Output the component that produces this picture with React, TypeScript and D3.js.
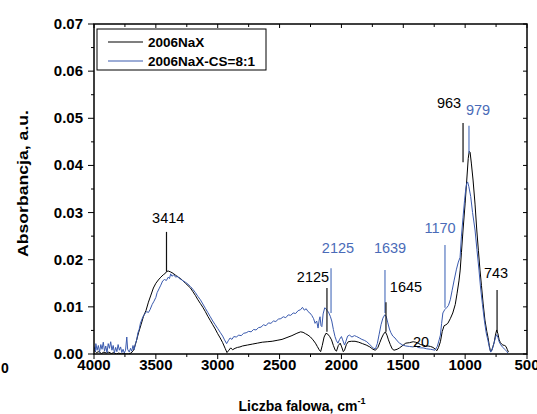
import React from "react";
import * as d3 from "d3";

// ---- data ----
const naxWavenumbers = [4000,3980,3960,3940,3920,3900,3880,3860,3840,3820,3800,3780,3760,3740,3720,3700,3680,3660,3640,3620,3600,3580,3560,3540,3520,3500,3480,3460,3440,3420,3414,3400,3380,3360,3340,3320,3300,3280,3260,3240,3220,3200,3180,3160,3140,3120,3100,3080,3060,3040,3020,3000,2980,2960,2940,2925,2910,2895,2880,2860,2840,2820,2800,2760,2720,2680,2640,2600,2560,2520,2480,2440,2400,2360,2330,2310,2290,2270,2250,2230,2210,2195,2180,2168,2155,2140,2125,2110,2095,2080,2065,2050,2040,2025,2010,1998,1985,1975,1960,1945,1920,1890,1860,1830,1800,1770,1745,1725,1705,1690,1675,1660,1645,1632,1620,1605,1590,1575,1550,1530,1500,1480,1450,1420,1400,1380,1360,1340,1320,1300,1280,1260,1240,1228,1215,1200,1185,1170,1155,1140,1120,1100,1080,1065,1050,1040,1030,1017,1000,987,975,967,960,950,936,920,906,893,880,868,855,840,825,815,805,795,785,775,765,755,745,735,725,715,705,695,680,670,660,650];
const naxAbsorbance = [0.0008,0.0003,0.0005,0.0001,0.0004,0.0002,0.0004,0.0001,0.0003,0.0,0.0002,0.0,0.0001,0.0,0.0,0.0002,0.0008,0.0025,0.0045,0.0062,0.008,0.0092,0.011,0.0125,0.014,0.015,0.0157,0.0163,0.0168,0.0172,0.0175,0.0176,0.0174,0.0171,0.0167,0.0163,0.016,0.0155,0.015,0.0145,0.014,0.0132,0.0124,0.0115,0.0107,0.0099,0.009,0.008,0.0071,0.0062,0.0053,0.0043,0.0034,0.0024,0.0012,0.0003,0.0008,0.0013,0.0009,0.0012,0.0014,0.0015,0.0017,0.0019,0.0021,0.0023,0.0025,0.0026,0.0027,0.0029,0.0031,0.0035,0.0039,0.0044,0.0047,0.0046,0.0043,0.004,0.0036,0.003,0.0023,0.0016,0.0009,0.0005,0.0018,0.0036,0.0044,0.0042,0.0037,0.003,0.0018,0.0008,0.0006,0.0018,0.0023,0.0015,0.0005,0.0008,0.002,0.0026,0.0027,0.0027,0.0025,0.0022,0.0019,0.0015,0.001,0.0008,0.0014,0.0024,0.0034,0.0042,0.0047,0.004,0.003,0.002,0.0011,0.0008,0.001,0.0013,0.0019,0.0023,0.0024,0.0026,0.0025,0.0023,0.002,0.0019,0.0017,0.0017,0.0016,0.0014,0.001,0.0007,0.0014,0.0026,0.0048,0.006,0.0062,0.0065,0.0075,0.0087,0.0105,0.0129,0.0155,0.0178,0.0215,0.0263,0.032,0.0369,0.0415,0.043,0.0428,0.0405,0.0369,0.0318,0.0263,0.022,0.0178,0.0145,0.0108,0.0072,0.0048,0.0035,0.0018,0.0005,0.0008,0.0016,0.0025,0.004,0.0051,0.0043,0.003,0.0024,0.0021,0.0019,0.0018,0.0016,0.001,0.0004];

const csWavenumbers = [4000,3990,3985,3975,3965,3955,3945,3935,3925,3915,3905,3895,3885,3875,3865,3855,3845,3835,3825,3815,3805,3795,3785,3775,3765,3755,3745,3735,3728,3715,3705,3695,3685,3675,3665,3655,3645,3635,3625,3615,3604,3590,3575,3560,3547,3530,3515,3500,3490,3475,3460,3445,3430,3415,3400,3390,3380,3370,3355,3340,3325,3310,3295,3280,3260,3240,3220,3200,3180,3160,3140,3120,3100,3080,3060,3040,3020,3000,2980,2960,2945,2928,2915,2900,2885,2870,2850,2830,2810,2790,2770,2750,2730,2710,2690,2670,2650,2630,2610,2590,2570,2550,2530,2510,2490,2470,2450,2430,2410,2390,2370,2350,2330,2315,2300,2285,2270,2255,2240,2225,2213,2200,2189,2180,2173,2165,2158,2148,2135,2125,2115,2105,2090,2078,2065,2052,2040,2028,2015,2000,1990,1975,1965,1950,1935,1915,1895,1877,1855,1835,1815,1795,1775,1755,1740,1725,1710,1695,1680,1665,1650,1638,1625,1612,1600,1585,1567,1550,1530,1505,1480,1450,1420,1400,1385,1360,1340,1310,1280,1260,1244,1225,1210,1200,1190,1180,1165,1150,1135,1120,1105,1090,1070,1055,1041,1030,1017,1005,995,987,980,970,955,940,920,905,888,875,860,845,830,815,803,793,783,772,762,752,745,735,725,715,705,695,680,665,655];
const csAbsorbance = [0.0016,0.0005,0.0022,0.0008,0.0018,0.0004,0.002,0.001,0.0025,0.0006,0.0017,0.0003,0.0022,0.0012,0.0026,0.0008,0.0018,0.0002,0.0014,0.0005,0.002,0.0008,0.0015,0.0003,0.001,0.0002,0.0008,0.0036,0.001,0.0004,0.0012,0.0006,0.0018,0.0009,0.0022,0.003,0.0045,0.0052,0.0065,0.0072,0.0079,0.0085,0.009,0.0088,0.0094,0.0105,0.0112,0.012,0.013,0.0138,0.0146,0.0155,0.0158,0.0156,0.0163,0.016,0.017,0.0165,0.0168,0.0163,0.0165,0.016,0.0158,0.0155,0.0152,0.0148,0.0143,0.0137,0.013,0.0122,0.0115,0.0106,0.0097,0.0088,0.0079,0.007,0.0062,0.0054,0.0046,0.0038,0.003,0.0022,0.0028,0.0034,0.0031,0.0037,0.0036,0.004,0.0039,0.0044,0.0045,0.0048,0.0047,0.0052,0.0051,0.0056,0.0057,0.0062,0.006,0.0066,0.0065,0.007,0.0069,0.0074,0.0075,0.0079,0.0077,0.0083,0.0082,0.0087,0.0086,0.0092,0.0094,0.0099,0.0093,0.0096,0.009,0.0087,0.0082,0.0075,0.0065,0.007,0.0055,0.0072,0.0079,0.006,0.0058,0.0085,0.0098,0.0096,0.0092,0.0089,0.008,0.007,0.0052,0.0037,0.0028,0.0023,0.0031,0.0037,0.003,0.0019,0.0026,0.0038,0.004,0.0036,0.0039,0.0037,0.0034,0.0031,0.0029,0.0026,0.0021,0.0016,0.0012,0.0011,0.0022,0.0042,0.0062,0.0076,0.0083,0.008,0.0066,0.0053,0.0045,0.0038,0.0034,0.0028,0.0023,0.0019,0.0017,0.0016,0.0015,0.0018,0.0014,0.0013,0.0013,0.0011,0.001,0.0009,0.0008,0.0016,0.003,0.004,0.0065,0.0087,0.0094,0.0098,0.0103,0.0115,0.0135,0.0155,0.018,0.0195,0.0205,0.025,0.029,0.0325,0.035,0.0362,0.0365,0.0355,0.0334,0.03,0.0263,0.0222,0.0178,0.014,0.0105,0.0072,0.0045,0.0028,0.0013,0.0004,0.0008,0.0018,0.0028,0.0037,0.0041,0.0035,0.0026,0.0021,0.0017,0.0014,0.001,0.0006,0.0002];

const seriesNames = ["2006NaX", "2006NaX-CS=8:1"];
const xTickValues = [4000, 3500, 3000, 2500, 2000, 1500, 1000, 500];
const yTickValues = [0.0, 0.01, 0.02, 0.03, 0.04, 0.05, 0.06, 0.07];

// peak annotations: label, series (0 black, 1 blue), line wavenumber, line top/bottom, label position
const peakLabels = ["3414", "2125", "2125", "1639", "1645", "20", "1170", "963", "979", "743"];
const peakSeries = [0, 0, 1, 1, 0, 0, 1, 0, 1, 0];
const peakLineWn = [3414, 2117, 2084, 1648, 1640, null, 1163, 1017, 969, 742];
const peakLineTop = [0.0259, 0.014, 0.0182, 0.0178, 0.011, null, 0.0231, 0.049, 0.0484, 0.0136];
const peakLineBottom = [0.0175, 0.0047, 0.0087, 0.0087, 0.0047, null, 0.0098, 0.0407, 0.0426, 0.0047];
const peakTextWn = [3400, 2230, 2028, 1607, 1478, 1357, 1203, 1130, 896, 750];
const peakTextVal = [0.0278, 0.0153, 0.0214, 0.0214, 0.0132, 0.0015, 0.0257, 0.0522, 0.0507, 0.0161];

const W = 537, H = 414;
const M = { left: 94, right: 527, top: 24, bottom: 354 };
const BLACK = "#000000";
const BLUE = "#3a5aae";
const BLUE_TEXT = "#4a6bb8";
const FONT = "'Liberation Sans', Arial, sans-serif";

export default function App() {
  const x = d3.scaleLinear().domain([4000, 500]).range([M.left, M.right]);
  const y = d3.scaleLinear().domain([0, 0.07]).range([M.bottom, M.top]);
  const line = d3.line<[number, number]>().x(d => x(d[0])).y(d => y(d[1]));
  const nax = naxWavenumbers.map((w, i) => [w, naxAbsorbance[i]] as [number, number]);
  const cs = csWavenumbers.map((w, i) => [w, csAbsorbance[i]] as [number, number]);
  const xMinor = d3.range(500, 4001, 250);
  const yMinor = d3.range(0, 0.0701, 0.005);
  const colors = [BLACK, BLUE];
  const textColors = [BLACK, BLUE_TEXT];
  const lineColors = ["#111", "#5577c0"];

  return (
    <svg width={W} height={H} style={{ position: "absolute", left: 0, top: 0, background: "#fff" }} fontFamily={FONT}>
      <rect x={0} y={0} width={W} height={H} fill="#fff" />
      <defs>
        <clipPath id="plotclip">
          <rect x={M.left} y={M.top} width={M.right - M.left} height={M.bottom - M.top} />
        </clipPath>
      </defs>
      {/* series */}
      <g clipPath="url(#plotclip)" fill="none" strokeWidth={1} strokeLinejoin="round">
        <path d={line(nax) || ""} stroke={colors[0]} />
        <path d={line(cs) || ""} stroke={colors[1]} />
      </g>
      {/* annotations */}
      <g>
        {peakLabels.map((lab, i) => (
          <g key={i}>
            {peakLineWn[i] !== null && (
              <line x1={x(peakLineWn[i] as number)} x2={x(peakLineWn[i] as number)}
                y1={y(peakLineTop[i] as number)} y2={y(peakLineBottom[i] as number)}
                stroke={lineColors[peakSeries[i]]} strokeWidth={1.2} />
            )}
            <text x={x(peakTextWn[i])} y={y(peakTextVal[i])} textAnchor="middle" fontSize={14.5}
              fill={textColors[peakSeries[i]]}>{lab}</text>
          </g>
        ))}
      </g>
      {/* frame */}
      <rect x={M.left} y={M.top} width={M.right - M.left} height={M.bottom - M.top} fill="none" stroke="#000" strokeWidth={1.5} />
      {/* bottom ticks (outward) */}
      {xMinor.map(v => {
        const major = v % 500 === 0;
        return <line key={"bx" + v} x1={x(v)} x2={x(v)} y1={M.bottom} y2={M.bottom + (major ? 5 : 3)} stroke="#000" strokeWidth={1} />;
      })}
      {/* top ticks (inward) */}
      {xMinor.map(v => {
        const major = v % 500 === 0;
        return <line key={"tx" + v} x1={x(v)} x2={x(v)} y1={M.top} y2={M.top + (major ? 4 : 3)} stroke="#000" strokeWidth={1} />;
      })}
      {/* left ticks (outward) */}
      {yMinor.map((v, i) => (
        <line key={"ly" + i} x1={M.left - (i % 2 === 0 ? 6 : 3)} x2={M.left} y1={y(v)} y2={y(v)} stroke="#000" strokeWidth={1} />
      ))}
      {/* right ticks (inward) */}
      {yMinor.map((v, i) => (
        <line key={"ry" + i} x1={M.right - (i % 2 === 0 ? 4 : 3)} x2={M.right} y1={y(v)} y2={y(v)} stroke="#000" strokeWidth={1} />
      ))}
      {/* tick labels */}
      {xTickValues.map(v => (
        <text key={"xl" + v} x={x(v)} y={M.bottom + 16} textAnchor="middle" fontSize={15} fontWeight="bold">{v}</text>
      ))}
      {yTickValues.map(v => (
        <text key={"yl" + v} x={83} y={y(v) + 5} textAnchor="end" fontSize={15} fontWeight="bold">{v.toFixed(2)}</text>
      ))}
      <text x={5} y={373} textAnchor="middle" fontSize={14} fontWeight="bold">0</text>
      {/* axis titles */}
      <text transform={`translate(28,${(110 + 257) / 2}) rotate(-90)`} textAnchor="middle" fontSize={15.5} fontWeight="bold"
        textLength={147} lengthAdjust="spacingAndGlyphs">Absorbancja, a.u.</text>
      <text x={302} y={411} textAnchor="middle" fontSize={14} fontWeight="bold">
        Liczba falowa, cm<tspan dy={-7} fontSize={9}>-1</tspan>
      </text>
      {/* legend */}
      <g>
        <rect x={97} y={29} width={169} height={41} fill="#fff" stroke="#000" strokeWidth={1} />
        {seriesNames.map((n, i) => (
          <g key={n}>
            <line x1={108} x2={143} y1={42 + i * 19} y2={42 + i * 19} stroke={colors[i]} strokeWidth={1.2} />
            <text x={148} y={47 + i * 19} fontSize={13.5} fontWeight="bold">{n}</text>
          </g>
        ))}
      </g>
    </svg>
  );
}
